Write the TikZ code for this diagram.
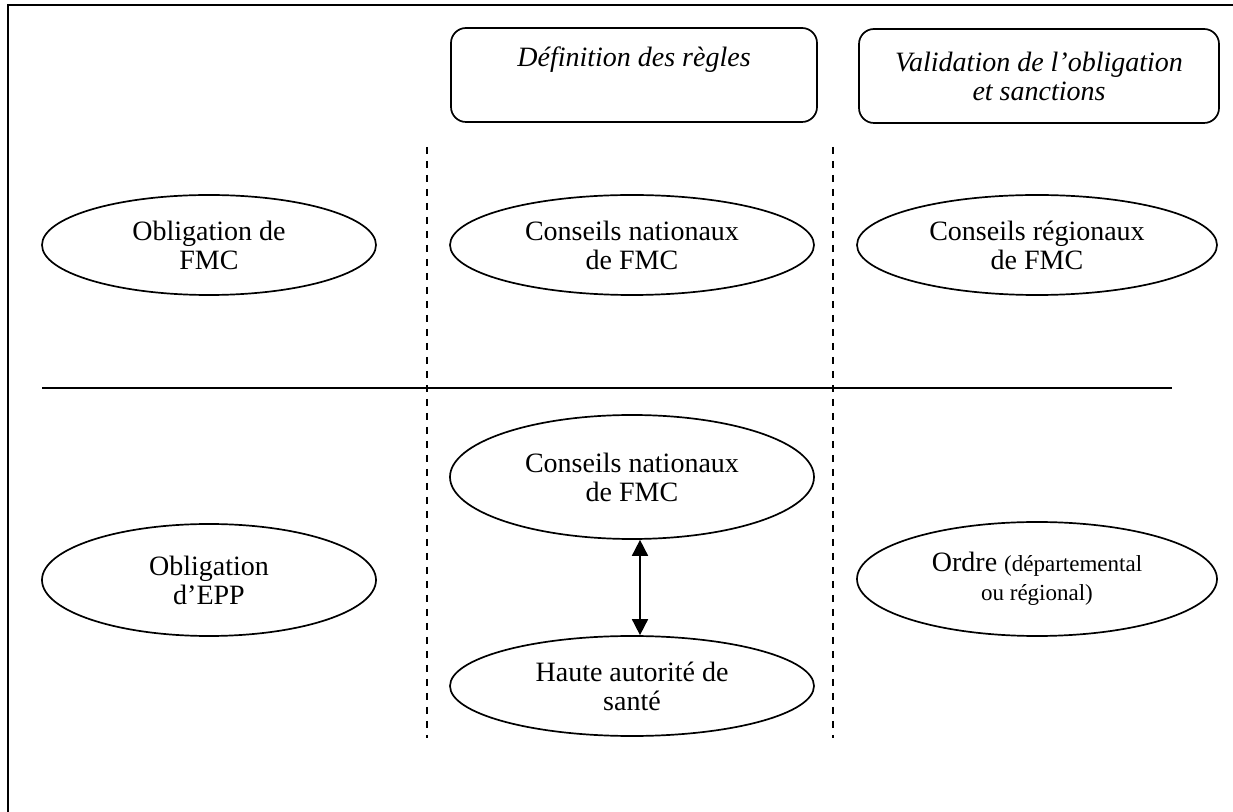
\documentclass[tikz,border=0pt]{standalone}
\usepackage{fontspec}
\setmainfont{Liberation Serif}
\usetikzlibrary{shapes.geometric, arrows.meta}

\tikzset{
  actor/.style={draw, ellipse, line width=0.85pt, align=center, inner sep=0pt},
  rubric/.style={draw, rounded corners=7.5pt, line width=0.85pt, align=center, minimum width=183pt, minimum height=47pt, font=\itshape\fontsize{14}{14.5}\selectfont},
  separ/.style={dash pattern=on 3.5pt off 3.5pt, line width=0.9pt},
  twoway/.style={line width=0.85pt, {Triangle[width=8pt,length=8pt]}-{Triangle[width=8pt,length=8pt]}},
}
\newcommand{\petit}{\fontsize{11.5}{12}\selectfont}

\begin{document}
\begin{tikzpicture}[x=0.5pt, y=-0.5pt, font=\fontsize{14}{14.5}\selectfont]
\useasboundingbox (0,0) rectangle (1233,812);
% cadre
\draw [line width=1.2pt] (8,812) -- (8,5) -- (1233,5);
% en-tetes
\node (regles) [rubric] at (634,75) {Définition des règles\\\strut};
\node (valid) [rubric, minimum width=180pt] at (1039,76) {Validation de l’obligation\\et sanctions};
% separations
\draw [separ] (427,147) -- (427,738);
\draw [separ] (833,147) -- (833,738);
\draw [line width=0.85pt] (42,388) -- (1172,388);
% FMC
\node (oblFMC) [actor, minimum width=167pt, minimum height=50pt] at (209,245) {Obligation de\\FMC};
\node (cnA) [actor, minimum width=182pt, minimum height=50pt] at (632,245) {Conseils nationaux\\de FMC};
\node (crA) [actor, minimum width=180pt, minimum height=50pt] at (1037,245) {Conseils régionaux\\de FMC};
% EPP
\node (oblEPP) [actor, minimum width=167pt, minimum height=56pt] at (209,580) {Obligation\\d’EPP};
\node (cnB) [actor, minimum width=182pt, minimum height=62pt] at (632,477) {Conseils nationaux\\de FMC};
\node (has) [actor, minimum width=182pt, minimum height=50pt] at (632,686) {Haute autorité de\\santé};
\node (ordre) [actor, minimum width=180pt, minimum height=57pt] at (1037,579) {Ordre {\petit(départemental}\\{\petit ou régional)}};
\draw [twoway] ([xshift=4pt]cnB.south) -- ([xshift=4pt]has.north);
\end{tikzpicture}
\end{document}
